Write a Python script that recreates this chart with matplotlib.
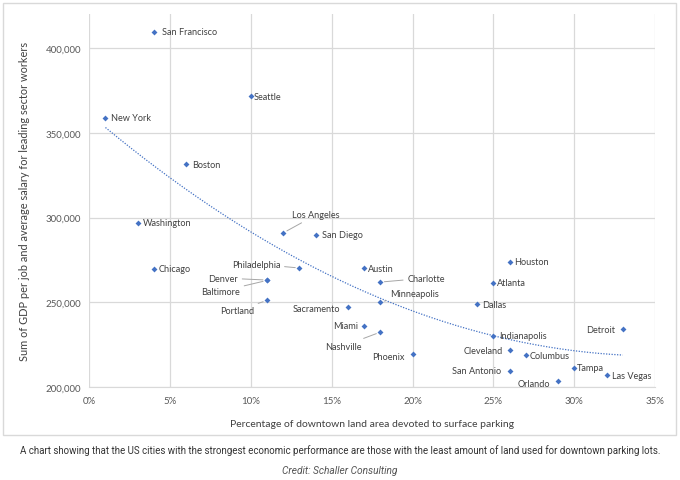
import numpy as np
import matplotlib
matplotlib.use("Agg")
import matplotlib.pyplot as plt
from matplotlib.patches import Rectangle
from matplotlib.ticker import FuncFormatter

plt.rcParams['font.family'] = ['Lato', 'DejaVu Sans']

cities = ["San Francisco", "Seattle", "New York", "Boston", "Washington", "Chicago",
          "Los Angeles", "San Diego", "Philadelphia", "Denver", "Baltimore", "Portland",
          "Austin", "Charlotte", "Minneapolis", "Sacramento", "Miami", "Nashville",
          "Phoenix", "Houston", "Atlanta", "Dallas", "Detroit", "Indianapolis",
          "Cleveland", "Columbus", "San Antonio", "Tampa", "Las Vegas", "Orlando"]
parking_pct = [4, 10, 1, 6, 3, 4,
               12, 14, 13, 11, 11, 11,
               17, 18, 18, 16, 17, 18,
               20, 26, 25, 24, 33, 25,
               26, 27, 26, 30, 32, 29]
gdp_salary = [409500, 371500, 359000, 331500, 297000, 270000,
              291000, 290000, 270300, 263200, 263000, 251200,
              270300, 262000, 250200, 247300, 236200, 232500,
              219500, 274000, 261500, 249000, 234200, 230300,
              221800, 219000, 209700, 211400, 207500, 203500]

x_ticks = [0, 5, 10, 15, 20, 25, 30, 35]
y_ticks = [200000, 250000, 300000, 350000, 400000]
x_title = "Percentage of downtown land area devoted to surface parking"
y_title = "Sum of GDP per job and average salary for leading sector workers"
caption = ("A chart showing that the US cities with the strongest economic performance "
           "are those with the least amount of land used for downtown parking lots.")
credit = "Credit: Schaller Consulting"

# label layout: offset in pixels (dx, dy up), alignment, leader line
label_layout = {
    "San Francisco": (8, 0, "left", False), "Seattle": (3, 0, "left", False),
    "New York": (6, 0, "left", False), "Boston": (6, 0, "left", False),
    "Washington": (5, 0, "left", False), "Chicago": (5, 0, "left", False),
    "Los Angeles": (9, 18, "left", True), "San Diego": (6, 0, "left", False),
    "Philadelphia": (-19, 4, "right", True), "Denver": (-29, 2, "right", True),
    "Baltimore": (-27, -11, "right", True), "Portland": (-13, -10, "right", True),
    "Austin": (4, 0, "left", False), "Charlotte": (27, 4, "left", True),
    "Minneapolis": (10, 9, "left", True), "Sacramento": (-8, -1, "right", False),
    "Miami": (-6, 0, "right", False), "Nashville": (-19, -14, "right", True),
    "Phoenix": (-8, -2, "right", False), "Houston": (5, 0, "left", False),
    "Atlanta": (4, 0, "left", False), "Dallas": (5, 0, "left", False),
    "Detroit": (-8, 0, "right", False), "Indianapolis": (6, 0, "left", False),
    "Cleveland": (-7, 0, "right", False), "Columbus": (4, 0, "left", False),
    "San Antonio": (-8, 0, "right", False), "Tampa": (3, 0, "left", False),
    "Las Vegas": (5, -1, "left", False), "Orlando": (-8, -2, "right", False),
}

W, H = 680, 481
fig = plt.figure(figsize=(W / 100, H / 100), dpi=100)
fig.patch.set_facecolor("white")

# outer chart frame
fig.patches.append(Rectangle((3 / W, 1 - 436 / H), 673 / W, 432 / H,
                             transform=fig.transFigure, fill=False,
                             edgecolor="#d9d9d9", linewidth=1.0))

ax = fig.add_axes([89.3 / W, 1 - 388.3 / H, (655 - 89.3) / W, (388.3 - 15) / H])
ax.set_xlim(0, 35)
ax.set_ylim(200000, 420000)
ax.set_xticks(x_ticks)
ax.set_yticks(y_ticks)
ax.xaxis.set_major_formatter(FuncFormatter(lambda v, p: f"{v:.0f}%"))
ax.yaxis.set_major_formatter(FuncFormatter(lambda v, p: f"{v:,.0f}"))
ax.grid(True, color="#d9d9d9", linewidth=0.9)
ax.set_axisbelow(True)
for s in ["top", "right", "left"]:
    ax.spines[s].set_visible(False)
ax.spines["bottom"].set_color("#d9d9d9")
ax.tick_params(length=0, labelsize=7, colors="#595959", pad=6)
ax.set_xlabel(x_title, fontsize=7.5, color="#404040", labelpad=10)
ax.set_ylabel(y_title, fontsize=7.9, color="#404040", labelpad=11)

x = np.array(parking_pct, dtype=float)
y = np.array(gdp_salary, dtype=float)

# polynomial (order 2) trendline
coef = np.polyfit(x, y, 2)
xs = np.linspace(x.min(), x.max(), 200)
ax.plot(xs, np.polyval(coef, xs), linestyle=(0, (1, 1.2)), color="#4472c4",
        linewidth=0.9, zorder=2)

ax.scatter(x, y, marker="D", s=9, color="#4472c4", zorder=3, linewidths=0)

for name, xv, yv in zip(cities, x, y):
    dx, dy, ha, leader = label_layout[name]
    kw = dict(xy=(xv, yv), xytext=(dx, dy), textcoords="offset pixels",
              ha=ha, va="center", fontsize=6.6, color="#404040", zorder=4)
    if leader:
        kw["arrowprops"] = dict(arrowstyle="-", color="#a6a6a6", linewidth=0.7,
                                shrinkA=1, shrinkB=3)
    ax.annotate(name, **kw)

fig.text(0.5, 1 - 451 / H, caption, ha="center", va="center", fontsize=7.0,
         color="#333333", family=["Roboto", "DejaVu Sans"])
fig.text(0.5, 1 - 471 / H, credit, ha="center", va="center", fontsize=7.3,
         color="#555555", style="italic", family=["Roboto", "DejaVu Sans"])

fig.savefig("out.png", dpi=100, facecolor="white")
